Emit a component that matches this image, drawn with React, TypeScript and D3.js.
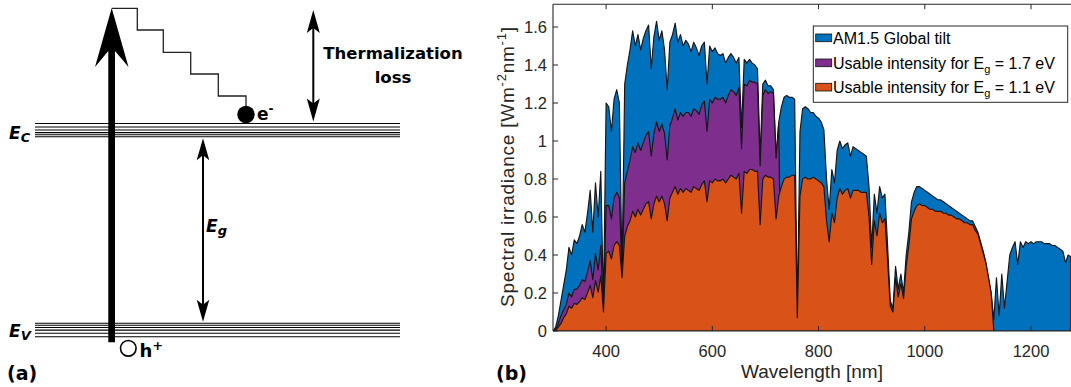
import React from 'react';
import * as d3 from 'd3';

// wavelength grid (nm), 5 nm sampling
const WAVELENGTHS: number[] = d3.range(300, 1280, 5);

// AM1.5 Global tilt spectral irradiance (W m^-2 nm^-1)
const AM15_GLOBAL = [
  0.00, 0.02, 0.08, 0.16, 0.24, 0.32, 0.44, 0.40, 0.48, 0.46,
  0.50, 0.56, 0.52, 0.62, 0.74, 0.52, 0.78, 0.60, 0.84, 0.14,
  1.20, 1.18, 1.05, 1.22, 1.27, 1.20, 0.32, 1.30, 1.40, 1.48,
  1.58, 1.50, 1.56, 1.48, 1.54, 1.58, 1.61, 1.38, 1.55, 1.63,
  1.53, 1.58, 1.48, 1.27, 1.52, 1.56, 1.62, 1.52, 1.56, 1.50,
  1.53, 1.51, 1.47, 1.52, 1.49, 1.45, 1.50, 1.52, 1.30, 1.50,
  1.47, 1.49, 1.46, 1.45, 1.46, 1.41, 1.44, 1.46, 1.44, 1.41,
  1.44, 1.07, 1.43, 1.41, 1.43, 1.41, 1.40, 1.38, 0.92, 1.30,
  1.32, 1.29, 1.29, 1.27, 0.92, 1.10, 1.18, 1.23, 1.24, 1.23,
  1.23, 1.22, 0.10, 1.05, 1.17, 1.18, 1.17, 1.15, 1.15, 1.13,
  1.12, 1.10, 1.06, 0.80, 0.64, 0.85, 0.78, 0.95, 1.00, 0.96,
  0.98, 0.99, 0.92, 0.97, 0.96, 0.95, 0.94, 0.93, 0.92, 0.76,
  0.44, 0.72, 0.62, 0.76, 0.70, 0.72, 0.45, 0.16, 0.12, 0.34,
  0.22, 0.30, 0.20, 0.40, 0.52, 0.68, 0.73, 0.76, 0.76, 0.75,
  0.74, 0.73, 0.72, 0.71, 0.70, 0.69, 0.69, 0.68, 0.67, 0.66,
  0.65, 0.64, 0.63, 0.62, 0.61, 0.60, 0.59, 0.58, 0.58, 0.55,
  0.52, 0.47, 0.42, 0.36, 0.28, 0.20, 0.06, 0.28, 0.08, 0.30,
  0.12, 0.26, 0.40, 0.44, 0.47, 0.35, 0.47, 0.44, 0.47, 0.46,
  0.47, 0.46, 0.47, 0.47, 0.47, 0.46, 0.46, 0.46, 0.45, 0.45,
  0.44, 0.43, 0.42, 0.36, 0.40, 0.39,
];

// Usable intensity for Eg = 1.7 eV (300 - 730 nm)
const USABLE_17 = [
  0.00, 0.01, 0.04, 0.08, 0.11, 0.14, 0.20, 0.18, 0.22, 0.22,
  0.24, 0.27, 0.26, 0.31, 0.37, 0.27, 0.41, 0.32, 0.45, 0.10,
  0.66, 0.66, 0.59, 0.70, 0.73, 0.70, 0.30, 0.78, 0.84, 0.90,
  0.97, 0.94, 0.99, 0.95, 0.99, 1.03, 1.05, 0.92, 1.04, 1.10,
  1.05, 1.09, 1.04, 0.90, 1.08, 1.12, 1.17, 1.11, 1.15, 1.13,
  1.15, 1.15, 1.13, 1.17, 1.16, 1.14, 1.19, 1.21, 1.05, 1.22,
  1.20, 1.23, 1.22, 1.22, 1.23, 1.20, 1.24, 1.27, 1.26, 1.24,
  1.28, 0.96, 1.30, 1.29, 1.32, 1.31, 1.31, 1.30, 0.87, 1.24,
  1.27, 1.25, 1.26, 1.25, 0.91, 1.09, 0.00,
];

// Usable intensity for Eg = 1.1 eV (300 - 1130 nm)
const USABLE_11 = [
  0.00, 0.005, 0.02, 0.04, 0.07, 0.09, 0.13, 0.12, 0.145, 0.14,
  0.155, 0.175, 0.165, 0.20, 0.24, 0.175, 0.265, 0.205, 0.29, 0.10,
  0.41, 0.42, 0.38, 0.45, 0.47, 0.45, 0.28, 0.50, 0.55, 0.58,
  0.63, 0.60, 0.64, 0.61, 0.64, 0.67, 0.68, 0.59, 0.67, 0.71,
  0.68, 0.71, 0.67, 0.58, 0.70, 0.73, 0.76, 0.72, 0.75, 0.73,
  0.75, 0.74, 0.73, 0.76, 0.75, 0.74, 0.77, 0.79, 0.68, 0.79,
  0.78, 0.80, 0.79, 0.79, 0.80, 0.78, 0.80, 0.82, 0.81, 0.80,
  0.83, 0.62, 0.84, 0.83, 0.85, 0.85, 0.84, 0.84, 0.56, 0.80,
  0.82, 0.81, 0.81, 0.80, 0.59, 0.71, 0.76, 0.80, 0.81, 0.81,
  0.82, 0.82, 0.07, 0.71, 0.80, 0.81, 0.80, 0.80, 0.81, 0.80,
  0.79, 0.78, 0.76, 0.58, 0.47, 0.62, 0.57, 0.70, 0.75, 0.72,
  0.74, 0.75, 0.70, 0.74, 0.74, 0.74, 0.73, 0.73, 0.73, 0.60,
  0.35, 0.58, 0.50, 0.62, 0.57, 0.59, 0.37, 0.13, 0.10, 0.28,
  0.18, 0.25, 0.17, 0.34, 0.45, 0.59, 0.63, 0.66, 0.67, 0.66,
  0.66, 0.65, 0.64, 0.64, 0.63, 0.63, 0.63, 0.62, 0.62, 0.61,
  0.61, 0.60, 0.59, 0.59, 0.58, 0.57, 0.57, 0.56, 0.56, 0.53,
  0.51, 0.46, 0.41, 0.36, 0.28, 0.20, 0.00,
];

const X_TICKS = [400, 600, 800, 1000, 1200];
const Y_TICKS = [0, 0.2, 0.4, 0.6, 0.8, 1, 1.2, 1.4, 1.6];
const Y_TICK_LABELS = ['0', '0.2', '0.4', '0.6', '0.8', '1', '1.2', '1.4', '1.6'];

const SERIES_COLORS = ['#0072BD', '#7E2F8E', '#D95319'];
const LEGEND_PREFIX = ['AM1.5 Global tilt', 'Usable intensity for E', 'Usable intensity for E'];
const LEGEND_SUFFIX = ['', ' = 1.7 eV', ' = 1.1 eV'];

const AX = '#262626';
const SANS = '"Liberation Sans", Arial, Helvetica, sans-serif';
const BOLD = '"DejaVu Sans", Verdana, sans-serif';

function Arrowhead({ x, tip, dir, hw, len, notch }: { x: number; tip: number; dir: number; hw: number; len: number; notch: number }) {
  // dir = -1 for pointing up, +1 for pointing down
  const base = tip - dir * len;
  const n = tip - dir * notch;
  return <path d={`M${x},${tip} L${x + hw},${base} L${x},${n} L${x - hw},${base} Z`} fill="#000" />;
}

function PanelA() {
  const ecLines = [123.5, 127, 130, 132.6, 134.8, 136.8];
  const evLines = [323.3, 325.3, 327.5, 330.1, 333.2, 336.7];
  const stairs = [
    [111.7, 8.3], [137.3, 8.3], [137.3, 30], [163.3, 30], [163.3, 52.3], [190.7, 52.3],
    [190.7, 74], [218.3, 74], [218.3, 96], [246, 96], [246, 106],
  ];
  const line = d3.line();
  return (
    <g>
      {ecLines.map((yy, i) => (
        <line key={'c' + i} x1={35} x2={400} y1={yy} y2={yy} stroke="#000" strokeWidth={1.1} />
      ))}
      {evLines.map((yy, i) => (
        <line key={'v' + i} x1={35} x2={400} y1={yy} y2={yy} stroke="#000" strokeWidth={1.1} />
      ))}
      {/* big photon arrow */}
      <path
        d="M111.7,8 L128.5,67 L115,51 L115,342.3 L108.3,342.3 L108.3,51 L95,67 Z"
        fill="#000"
      />
      {/* staircase */}
      <path d={line(stairs as [number, number][]) || ''} fill="none" stroke="#222" strokeWidth={1.3} />
      {/* electron */}
      <circle cx={246} cy={114.5} r={8.7} fill="#000" />
      <text x={257} y={120} fontFamily={BOLD} fontWeight="bold" fontSize={17} fill="#000">
        e<tspan dy={-7} fontSize={12}>-</tspan>
      </text>
      {/* hole */}
      <circle cx={128.3} cy={348.3} r={7.8} fill="#fff" stroke="#000" strokeWidth={1.6} />
      <text x={139.5} y={357} fontFamily={BOLD} fontWeight="bold" fontSize={18} fill="#000">
        h<tspan dy={-7} fontSize={13}>+</tspan>
      </text>
      {/* thermalization arrow */}
      <line x1={313.3} x2={313.3} y1={20} y2={111} stroke="#000" strokeWidth={2} />
      <Arrowhead x={313.3} tip={10} dir={-1} hw={6.5} len={23} notch={18} />
      <Arrowhead x={313.3} tip={121.5} dir={1} hw={6.5} len={23} notch={18} />
      <text x={393} y={58.5} textAnchor="middle" fontFamily={BOLD} fontWeight="bold" fontSize={16.5} fill="#000">
        Thermalization
      </text>
      <text x={393} y={83} textAnchor="middle" fontFamily={BOLD} fontWeight="bold" fontSize={16.5} fill="#000">
        loss
      </text>
      {/* band gap arrow */}
      <line x1={203} x2={203} y1={148} y2={312} stroke="#000" strokeWidth={2} />
      <Arrowhead x={203} tip={138.3} dir={-1} hw={6.3} len={22} notch={17} />
      <Arrowhead x={203} tip={321.7} dir={1} hw={6.3} len={22} notch={17} />
      {/* labels */}
      <text x={9} y={139} fontFamily={BOLD} fontWeight="bold" fontStyle="italic" fontSize={17} fill="#000">
        E<tspan dy={3} fontSize={13}>C</tspan>
      </text>
      <text x={9} y={336.5} fontFamily={BOLD} fontWeight="bold" fontStyle="italic" fontSize={17} fill="#000">
        E<tspan dy={3} fontSize={13}>V</tspan>
      </text>
      <text x={206} y={232} fontFamily={BOLD} fontWeight="bold" fontStyle="italic" fontSize={17} fill="#000">
        E<tspan dy={3} fontSize={13}>g</tspan>
      </text>
      <text x={7} y={380} fontFamily={BOLD} fontWeight="bold" fontSize={19} fill="#000">
        (a)
      </text>
    </g>
  );
}

function PanelB() {
  const x = d3.scaleLinear().domain([300, 1200]).range([553, 1031]);
  const y = d3.scaleLinear().domain([0, 1.72]).range([331, 4.2]);
  const left = x(300);
  const top = y(1.72);
  const bottom = y(0);
  const right = 1071;

  const area = d3
    .area<number>()
    .x((_, i) => x(WAVELENGTHS[i]))
    .y0(bottom)
    .y1((d) => y(d));

  const series = [AM15_GLOBAL, USABLE_17, USABLE_11];
  const legendY = [38, 63, 87.3];

  return (
    <g>
      <defs>
        <clipPath id="plotClip">
          <rect x={left} y={top} width={right - left + 10} height={bottom - top} />
        </clipPath>
      </defs>
      <g clipPath="url(#plotClip)">
        {series.map((s, k) => (
          <path
            key={k}
            d={area(s) || ''}
            fill={SERIES_COLORS[k]}
            stroke="#151515"
            strokeWidth={1.15}
            strokeLinejoin="round"
          />
        ))}
      </g>
      {/* axes box */}
      <line x1={left} x2={left} y1={top} y2={bottom} stroke={AX} strokeWidth={1.1} />
      <line x1={left} x2={right} y1={top} y2={top} stroke={AX} strokeWidth={1.1} />
      <line x1={left} x2={right} y1={bottom} y2={bottom} stroke={AX} strokeWidth={1.1} />
      {Y_TICKS.map((t, i) => (
        <g key={'y' + i}>
          <line x1={left} x2={left + 5} y1={y(t)} y2={y(t)} stroke={AX} strokeWidth={1} />
          <text
            x={547}
            y={y(t)}
            dy="0.35em"
            textAnchor="end"
            fontFamily={SANS}
            fontSize={16.5}
            fill={AX}
          >
            {Y_TICK_LABELS[i]}
          </text>
        </g>
      ))}
      {X_TICKS.map((t) => (
        <g key={'x' + t}>
          <line x1={x(t)} x2={x(t)} y1={bottom} y2={bottom - 5} stroke={AX} strokeWidth={1} />
          <line x1={x(t)} x2={x(t)} y1={top} y2={top + 5} stroke={AX} strokeWidth={1} />
          <text x={x(t)} y={356.5} textAnchor="middle" fontFamily={SANS} fontSize={16.5} fill={AX}>
            {t}
          </text>
        </g>
      ))}
      <text x={812} y={378} textAnchor="middle" fontFamily={SANS} fontSize={19} fill={AX}>
        Wavelength [nm]
      </text>
      <text
        transform="translate(514,167) rotate(-90)"
        textAnchor="middle"
        fontFamily={SANS}
        fontSize={19}
        fill={AX}
        textLength={280}
        lengthAdjust="spacing"
      >
        Spectral irradiance [Wm<tspan dy={-8} fontSize={13}>-2</tspan>
        <tspan dy={8}>nm</tspan>
        <tspan dy={-8} fontSize={13}>-1</tspan>
        <tspan dy={8}>]</tspan>
      </text>
      {/* legend */}
      <rect x={813.3} y={26} width={254.4} height={76.3} fill="#fff" stroke={AX} strokeWidth={1} />
      {SERIES_COLORS.map((c, i) => (
        <g key={'l' + i}>
          <rect x={815.7} y={legendY[i] - 4} width={16} height={7.7} fill={c} stroke="#111" strokeWidth={0.8} />
          <text x={833} y={legendY[i] + 5.8} fontFamily={SANS} fontSize={16} fill="#000">
            {LEGEND_PREFIX[i]}
            {i > 0 && (
              <>
                <tspan dy={4} fontSize={11}>g</tspan>
                <tspan dy={-4}>{LEGEND_SUFFIX[i]}</tspan>
              </>
            )}
          </text>
        </g>
      ))}
      <text x={496} y={380} fontFamily={BOLD} fontWeight="bold" fontSize={19} fill="#000">
        (b)
      </text>
    </g>
  );
}

export default function App() {
  return (
    <svg
      width={1071}
      height={387}
      viewBox="0 0 1071 387"
      style={{ position: 'absolute', left: 0, top: 0, background: '#fff' }}
    >
      <rect x={0} y={0} width={1071} height={387} fill="#fff" />
      <PanelA />
      <PanelB />
    </svg>
  );
}
